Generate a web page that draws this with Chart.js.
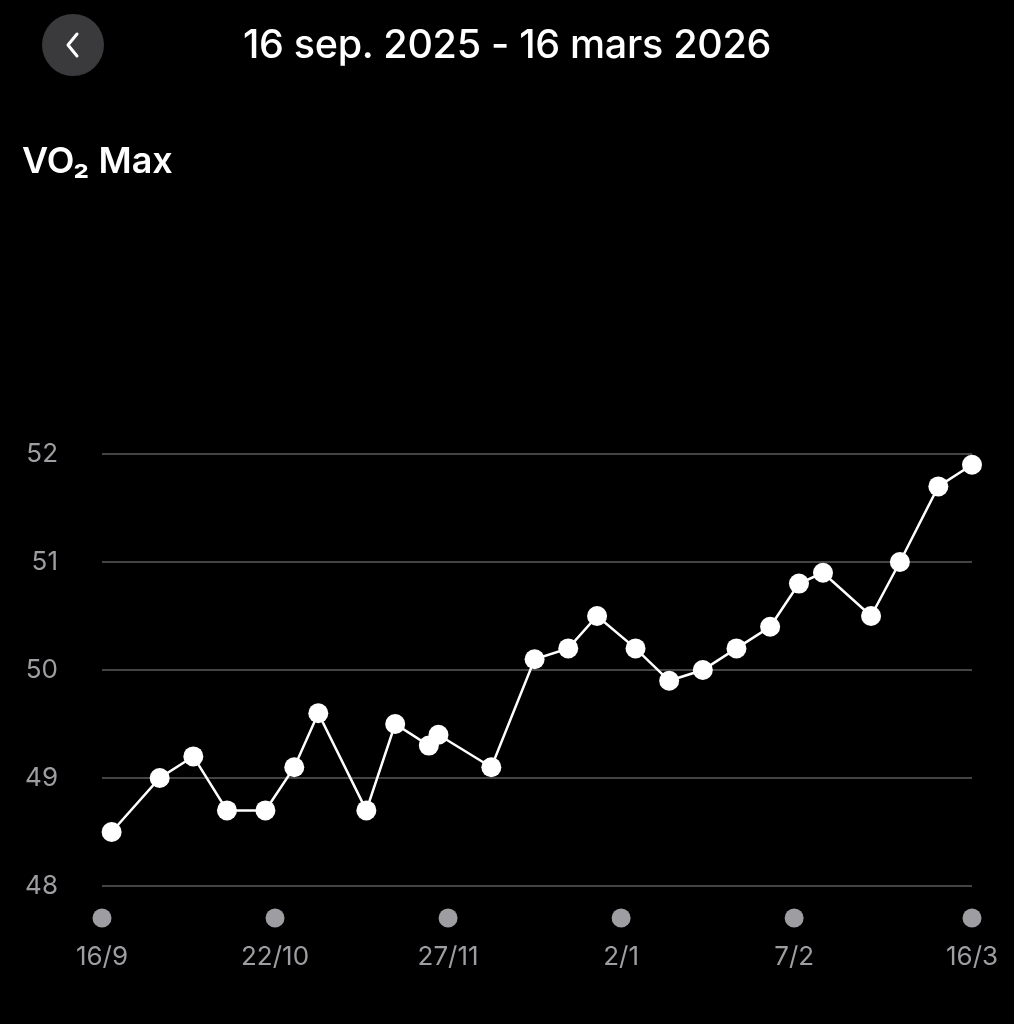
<!DOCTYPE html>
<html>
<head>
<meta charset="utf-8">
<script src="https://cdn.jsdelivr.net/npm/chart.js@4"></script>
<style>
  html, body { margin: 0; padding: 0; background: #000; }
  body { width: 1014px; height: 1024px; position: relative; overflow: hidden; font-family: Inter, "Noto Sans", sans-serif; }
  .back { position: absolute; left: 42px; top: 14px; width: 62px; height: 62px; border-radius: 50%; background: #3a3a3c; }
  .back svg { position: absolute; left: 0; top: 0; }
  .title { position: absolute; left: 0; width: 1014px; top: 20px; text-align: center; color: #fff; font-size: 39.5px; font-weight: 500; letter-spacing: -0.3px; }
  .metric { position: absolute; left: 22px; top: 138px; color: #fff; font-size: 36px; font-weight: 600; }
  #wrap { position: absolute; left: 0; top: 0; width: 1014px; height: 1024px; }
</style>
</head>
<body>
<div id="wrap"><canvas id="chart"></canvas></div>
<div class="back"><svg width="62" height="62"><polyline points="35,20 26,31 35,42" fill="none" stroke="#fff" stroke-width="3" stroke-linecap="round" stroke-linejoin="round"/></svg></div>
<div class="title">16 sep. 2025 - 16 mars 2026</div>
<div class="metric">VO₂ Max</div>
<script>
// Données
const startDate = '2025-09-16';
const measureDates = [
    '2025-09-18', '2025-09-28', '2025-10-05', '2025-10-12', '2025-10-20', '2025-10-26',
    '2025-10-31', '2025-11-10', '2025-11-16', '2025-11-23', '2025-11-25', '2025-12-06',
    '2025-12-15', '2025-12-22', '2025-12-28', '2026-01-05', '2026-01-12', '2026-01-19',
    '2026-01-26', '2026-02-02', '2026-02-08', '2026-02-13', '2026-02-23', '2026-03-01',
    '2026-03-09', '2026-03-16'
];
const vo2Values = [
    48.5, 49.0, 49.2, 48.7, 48.7, 49.1,
    49.6, 48.7, 49.5, 49.3, 49.4, 49.1,
    50.1, 50.2, 50.5, 50.2, 49.9, 50.0,
    50.2, 50.4, 50.8, 50.9, 50.5, 51.0,
    51.7, 51.9
];
const tickDates = ['2025-09-16', '2025-10-22', '2025-11-27', '2026-01-02', '2026-02-07', '2026-03-16'];
const yTicks = [48, 49, 50, 51, 52];

const dayOf = d => Math.round((Date.parse(d) - Date.parse(startDate)) / 86400000);
const fmtTick = d => { const t = new Date(d); return t.getUTCDate() + '/' + (t.getUTCMonth() + 1); };

const points = measureDates.map((d, i) => ({ x: dayOf(d), y: vo2Values[i] }));
const tickDays = tickDates.map(dayOf);
const tickLabelByDay = {};
tickDates.forEach(d => { tickLabelByDay[dayOf(d)] = fmtTick(d); });

// petits ronds gris sous l'axe des x
const tickDots = {
    id: 'tickDots',
    afterDraw(chart) {
        const ctx = chart.ctx;
        const xs = chart.scales.x;
        ctx.save();
        ctx.fillStyle = '#9d9da2';
        tickDays.forEach(v => {
            ctx.beginPath();
            ctx.arc(xs.getPixelForValue(v), 918, 9.5, 0, Math.PI * 2);
            ctx.fill();
        });
        ctx.restore();
    }
};

const ctx = document.getElementById('chart').getContext('2d');
new Chart(ctx, {
    type: 'line',
    data: {
        datasets: [{
            label: 'VO2 Max',
            data: points,
            borderColor: '#ffffff',
            borderWidth: 2.5,
            backgroundColor: '#ffffff',
            pointBackgroundColor: '#ffffff',
            pointBorderWidth: 0,
            pointRadius: 10,
            tension: 0,
            clip: false
        }]
    },
    options: {
        responsive: true,
        maintainAspectRatio: false,
        animation: false,
        layout: { padding: { left: 0, right: 42, top: 454, bottom: 0 } },
        plugins: { legend: { display: false }, tooltip: { enabled: false } },
        scales: {
            x: {
                type: 'linear',
                min: tickDays[0],
                max: tickDays[tickDays.length - 1],
                afterBuildTicks: scale => { scale.ticks = tickDays.map(v => ({ value: v })); },
                afterFit: scale => {
                    scale.height = 138;
                    scale.paddingLeft = 0;
                    scale.paddingRight = 0;
                },
                grid: { display: false, drawTicks: false },
                border: { display: false },
                ticks: {
                    color: '#9d9da2',
                    font: { family: 'Inter', size: 26 },
                    padding: 56,
                    maxRotation: 0,
                    autoSkip: false,
                    callback: v => tickLabelByDay[v] || ''
                }
            },
            y: {
                min: yTicks[0],
                max: yTicks[yTicks.length - 1],
                afterBuildTicks: scale => { scale.ticks = yTicks.map(v => ({ value: v })); },
                afterFit: scale => { scale.width = 102; },
                grid: { color: '#444446', lineWidth: 2, drawTicks: false },
                border: { display: false },
                ticks: {
                    color: '#9d9da2',
                    font: { family: 'Inter', size: 26 },
                    padding: 44
                }
            }
        }
    },
    plugins: [tickDots]
});
</script>
</body>
</html>
